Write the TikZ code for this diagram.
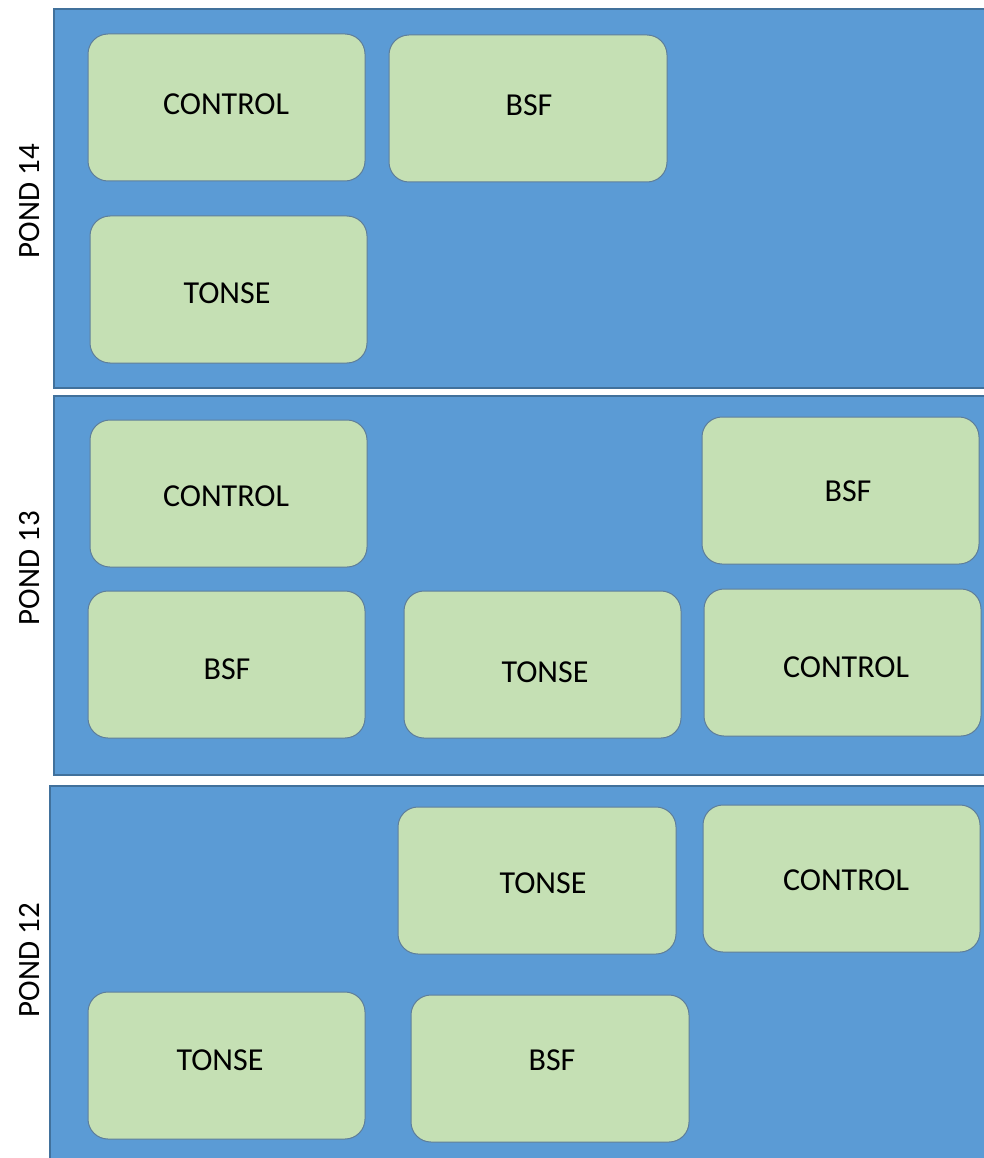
\documentclass[tikz,border=0pt]{standalone}
\usepackage{fontspec}
\setmainfont{Carlito}
\definecolor{pondblue}{HTML}{5B9BD5}
\definecolor{ponddark}{HTML}{41719C}
\definecolor{boxgreen}{HTML}{C5E0B4}
\definecolor{boxedge}{HTML}{5E7E9A}
\begin{document}
\begin{tikzpicture}[x=1pt,y=-1pt,
  pond/.style={fill=pondblue,draw=ponddark,line width=1.2pt},
  plot/.style={fill=boxgreen,draw=boxedge,line width=1pt,rounded corners=20pt},
  lbl/.style={font=\fontsize{32}{34}\selectfont,text=black},
  pondlbl/.style={font=\fontsize{31}{34}\selectfont,rotate=90,text=black}]
\useasboundingbox (0,0) rectangle (983,1158);
% ponds
\draw[pond] (54,9) rectangle (985,388);
\draw[pond] (54,396) rectangle (985,775);
\draw[pond] (50,786) rectangle (985,1160);
\node[pondlbl] (p14) at (30,201) {POND 14};
\node[pondlbl] (p13) at (30,568) {POND 13};
\node[pondlbl] (p12) at (30,960) {POND 12};
% pond 14
\draw[plot] (88,34) rectangle (365,181);
\node[lbl] (a1) at (226,104) {CONTROL};
\draw[plot] (389,35) rectangle (667,182);
\node[lbl] (a2) at (529,105) {BSF};
\draw[plot] (90,216) rectangle (367,363);
\node[lbl] (a3) at (227,293) {TONSE};
% pond 13
\draw[plot] (90,420) rectangle (367,567);
\node[lbl] (b1) at (226,496) {CONTROL};
\draw[plot] (702,417) rectangle (979,564);
\node[lbl] (b2) at (848,491) {BSF};
\draw[plot] (88,591) rectangle (365,738);
\node[lbl] (b3) at (227,669) {BSF};
\draw[plot] (404,591) rectangle (681,738);
\node[lbl] (b4) at (545,672) {TONSE};
\draw[plot] (704,589) rectangle (981,736);
\node[lbl] (b5) at (846,667) {CONTROL};
% pond 12
\draw[plot] (398,807) rectangle (676,954);
\node[lbl] (c1) at (543,883) {TONSE};
\draw[plot] (703,805) rectangle (980,952);
\node[lbl] (c2) at (846,880) {CONTROL};
\draw[plot] (88,992) rectangle (365,1139);
\node[lbl] (c3) at (220,1060) {TONSE};
\draw[plot] (411,995) rectangle (689,1142);
\node[lbl] (c4) at (552,1060) {BSF};
\end{tikzpicture}
\end{document}
